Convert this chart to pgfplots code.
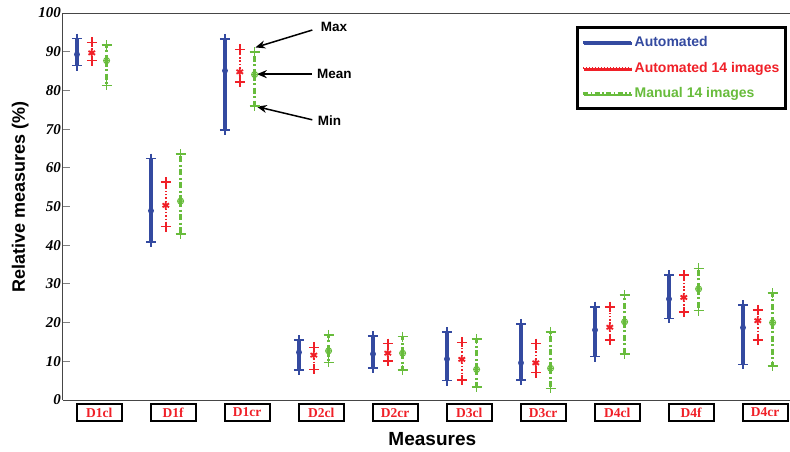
\documentclass[border=0pt]{standalone}
\usepackage{fontspec}
\setmainfont{Liberation Serif}
\setsansfont{Liberation Sans}
\usepackage{pgfplots}
\pgfplotsset{compat=1.18}
\usepackage{pgfplotstable}
\usetikzlibrary{arrows.meta,shadows,plotmarks}

\definecolor{autblue}{RGB}{52,74,160}
\definecolor{autred}{RGB}{240,32,40}
\definecolor{mangreen}{RGB}{104,188,60}
\definecolor{axisgray}{RGB}{70,70,70}

% x = measure index, mean / min / max in %
\pgfplotstableread{
x mean min max
1 89.3 86.4 93.4
2 48.9 40.9 62.4
3 85.1 69.8 93.3
4 12.3 7.8 15.5
5 11.9 8.3 16.6
6 10.6 5.0 17.5
7 9.6 5.2 19.7
8 18.1 11.2 24.1
9 26.1 21.1 32.3
10 18.7 9.2 24.5
}\autotab

\pgfplotstableread{
x mean min max
1 89.7 87.7 92.4
2 50.3 44.8 56.3
3 84.8 82.2 90.6
4 11.6 7.9 13.6
5 12.1 10.1 14.6
6 10.5 5.2 14.9
7 9.6 7.1 14.6
8 18.8 15.5 24.1
9 26.5 22.7 32.3
10 20.5 15.5 23.3
}\autfourteen

\pgfplotstableread{
x mean min max
1 87.7 81.3 91.7
2 51.4 42.9 63.5
3 84.1 76.0 89.9
4 12.7 9.7 16.8
5 12.1 7.8 16.4
6 7.9 3.4 15.8
7 8.2 3.0 17.6
8 20.2 11.9 27.1
9 28.7 23.1 34.0
10 20.0 8.8 27.6
}\manfourteen

\pgfplotsset{
  endmarks/.style={only marks, mark=+, mark size=5pt, mark options={line width=1.6pt, solid, draw=#1}, forget plot},
}

\begin{document}
\begin{tikzpicture}
\begin{axis}[
  scale only axis, width=727pt, height=387pt,
  xmin=0.811, xmax=10.635, ymin=0, ymax=100,
  axis lines=left,
  axis line style={-, draw=axisgray, line width=1pt},
  ytick={0,10,20,30,40,50,60,70,80,90,100},
  tick align=inside, major tick length=7pt,
  ytick style={gray, line width=1pt},
  xtick={1.3,2.3,3.3,4.3,5.3,6.3,7.3,8.3,9.3,10.3},
  xticklabels={D1cl,D1f,D1cr,D2cl,D2cr,D3cl,D3cr,D4cl,D4f,D4cr},
  xtick style={draw=none},
  /pgf/number format/assume math mode=true,
  yticklabel style={font=\fontsize{15}{17}\selectfont\bfseries\itshape, inner sep=2pt},
  xticklabel style={draw=black, line width=2.2pt, fill=white,
    minimum width=45pt, minimum height=17pt, inner sep=0pt,
    text=autred, font=\fontsize{13.5}{15}\selectfont\bfseries, yshift=-3pt,
    drop shadow={shadow xshift=1.3pt, shadow yshift=-1.3pt, opacity=1, fill=black}},
  xlabel={Measures},
  ylabel={Relative measures (\%)},
  xlabel style={at={(axis description cs:0.508,-0.1163)}, anchor=base,
    font=\sffamily\bfseries\fontsize{19}{21}\selectfont},
  ylabel style={at={(axis description cs:-0.0523,0.525)}, rotate=0, anchor=base,
    font=\sffamily\bfseries\fontsize{18}{20}\selectfont},
  legend style={at={(0.706,0.966)}, anchor=north west, draw=black,
    line width=2.8pt, fill=white,
    font=\sffamily\bfseries\fontsize{14}{16}\selectfont,
    row sep=10pt, inner xsep=4pt, inner ysep=7pt,
    drop shadow={shadow xshift=1.3pt, shadow yshift=-1.3pt, opacity=1, fill=black}},
  legend cell align=left,
]
% Automated
\addplot[autblue, only marks, mark=oplus, mark size=2.5pt, mark options={line width=0.9pt},
  legend image code/.code={\draw[autblue, line width=3pt] (0pt,0pt) -- (48pt,0pt);},
  error bars/.cd, y dir=both, y explicit, error mark=none,
  error bar style={line width=3.5pt, autblue, solid}]
  table[x=x, y=mean, y error plus expr=\thisrow{max}-\thisrow{mean},
        y error minus expr=\thisrow{mean}-\thisrow{min}] {\autotab};
\addlegendentry{\textcolor{autblue}{Automated}}
% Automated 14 images
\addplot[autred, only marks, mark=asterisk, mark size=3.8pt, mark options={line width=1.8pt},
  legend image code/.code={\draw[autred, line width=1.5pt, dash pattern=on 1pt off 2pt] (0pt,0pt) -- (48pt,0pt);},
  error bars/.cd, y dir=both, y explicit, error mark=none,
  error bar style={line width=2.5pt, autred, dash pattern=on 1.5pt off 1.8pt}]
  table[x expr=\thisrow{x}+0.2, y=mean, y error plus expr=\thisrow{max}-\thisrow{mean},
        y error minus expr=\thisrow{mean}-\thisrow{min}] {\autfourteen};
\addlegendentry{\textcolor{autred}{Automated 14 images}}
% Manual 14 images
\addplot[mangreen, only marks, mark=oplus, mark size=3pt, mark options={line width=1pt},
  legend image code/.code={\draw[mangreen, line width=2.5pt, dash pattern=on 5pt off 2.5pt on 1.5pt off 2.5pt] (0pt,0pt) -- (48pt,0pt);},
  error bars/.cd, y dir=both, y explicit, error mark=none,
  error bar style={line width=3.5pt, mangreen, dash pattern=on 6pt off 2.5pt on 2pt off 2.5pt}]
  table[x expr=\thisrow{x}+0.4, y=mean, y error plus expr=\thisrow{max}-\thisrow{mean},
        y error minus expr=\thisrow{mean}-\thisrow{min}] {\manfourteen};
\addlegendentry{\textcolor{mangreen}{Manual 14 images}}

% min / max end marks
\addplot[autblue, endmarks=autblue] table[x=x, y=min] {\autotab};
\addplot[autblue, endmarks=autblue] table[x=x, y=max] {\autotab};
\addplot[autred, endmarks=autred] table[x expr=\thisrow{x}+0.2, y=min] {\autfourteen};
\addplot[autred, endmarks=autred] table[x expr=\thisrow{x}+0.2, y=max] {\autfourteen};
\addplot[mangreen, endmarks=mangreen] table[x expr=\thisrow{x}+0.4, y=min] {\manfourteen};
\addplot[mangreen, endmarks=mangreen] table[x expr=\thisrow{x}+0.4, y=max] {\manfourteen};

% top frame line
\draw[axisgray, line width=1pt] (rel axis cs:0,1) -- (rel axis cs:1,1);

% annotations
\draw[black, line width=1.5pt, -{Stealth[length=10pt, width=8pt]}] (axis cs:4.18,95.6) -- (axis cs:3.41,91.1);
\draw[black, line width=1.5pt, -{Stealth[length=10pt, width=8pt]}] (axis cs:4.17,84.2) -- (axis cs:3.43,84.2);
\draw[black, line width=1.5pt, -{Stealth[length=10pt, width=8pt]}] (axis cs:4.18,72.4) -- (axis cs:3.43,75.8);
\node[anchor=west, inner sep=1pt, font=\sffamily\bfseries\fontsize{13.5}{15}\selectfont] at (axis cs:4.28,96.3) {Max};
\node[anchor=west, inner sep=1pt, font=\sffamily\bfseries\fontsize{13.5}{15}\selectfont] at (axis cs:4.23,84.2) {Mean};
\node[anchor=west, inner sep=1pt, font=\sffamily\bfseries\fontsize{13.5}{15}\selectfont] at (axis cs:4.24,72.1) {Min};
\end{axis}
\pgfresetboundingbox
\path (-63pt,-51pt) rectangle (727pt,400pt);
\end{tikzpicture}
\end{document}
